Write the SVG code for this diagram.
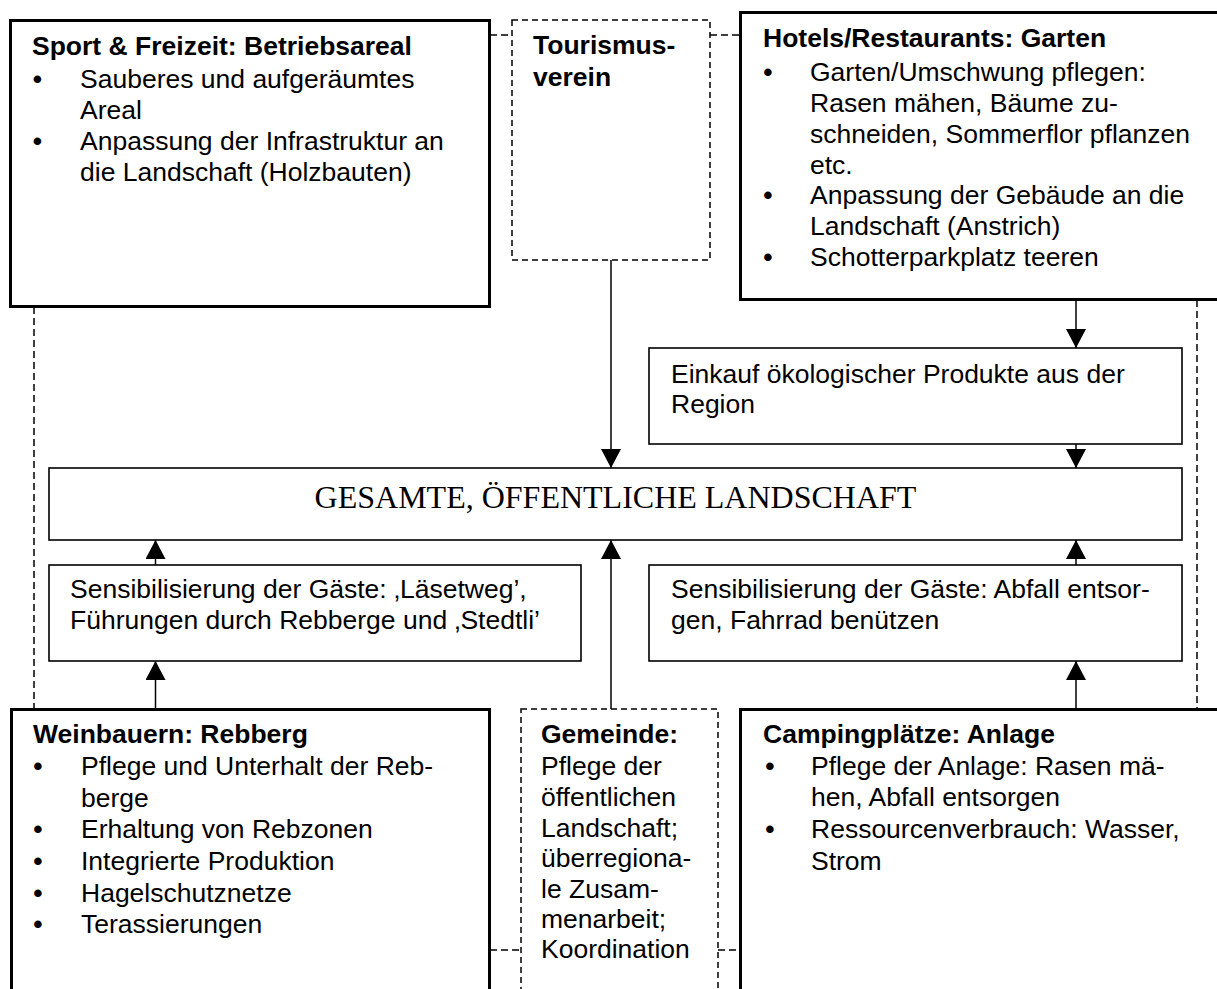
<svg xmlns="http://www.w3.org/2000/svg" width="1217" height="989" viewBox="0 0 1217 989">
<style>
.bg{fill:#fff}
.thick{fill:#fff;stroke:#000;stroke-width:3}
.thin{fill:#fff;stroke:#000;stroke-width:1.6}
.dbox{fill:#fff;stroke:#000;stroke-width:1.5;stroke-dasharray:6 4}
.t{font-family:"Liberation Sans",Arial,sans-serif;font-size:26.5px;fill:#000}
.b{font-weight:bold}
.bul{text-anchor:middle;font-weight:bold}
.big{font-family:"Liberation Serif","Times New Roman",serif;font-size:32px;fill:#000;text-anchor:middle}
.dash{fill:none;stroke:#000;stroke-width:1.5;stroke-dasharray:7 4}
.arr{fill:none;stroke:#000;stroke-width:1.5;marker-end:url(#ah)}
</style>
<defs>
<marker id="ah" markerUnits="userSpaceOnUse" markerWidth="20" markerHeight="20" refX="19" refY="10" orient="auto" viewBox="0 0 20 20">
<path d="M0,0 L19,10 L0,20 z" fill="#000"/>
</marker>
</defs>
<rect class="bg" x="0" y="0" width="1217" height="989"/>

<g id="connectors">
<line class="dash" x1="490" y1="35" x2="512" y2="35"/>
<line class="dash" x1="710" y1="35" x2="740" y2="35"/>
<line class="dash" x1="34" y1="307" x2="34" y2="709"/>
<line class="dash" x1="1197" y1="300" x2="1197" y2="709"/>
<line class="dash" x1="490" y1="950" x2="521" y2="950"/>
<line class="dash" x1="718" y1="950" x2="740" y2="950"/>
<line class="arr" x1="611" y1="260" x2="611" y2="468"/>
<line class="arr" x1="1076" y1="300" x2="1076" y2="348"/>
<line class="arr" x1="1076" y1="444" x2="1076" y2="468"/>
<line class="arr" x1="155.5" y1="565" x2="155.5" y2="540"/>
<line class="arr" x1="155.5" y1="709" x2="155.5" y2="661"/>
<line class="arr" x1="611" y1="709" x2="611" y2="540"/>
<line class="arr" x1="1076" y1="565" x2="1076" y2="540"/>
<line class="arr" x1="1076" y1="709" x2="1076" y2="661"/>
</g>

<g id="sport">
<rect class="thick" x="10.5" y="20.5" width="479" height="286"/>
<text class="t b" x="32" y="55">Sport &amp; Freizeit: Betriebsareal</text>
<text class="t bul" x="37.5" y="88">•</text>
<text class="t" x="80" y="88">Sauberes und aufgeräumtes</text>
<text class="t" x="80" y="119">Areal</text>
<text class="t bul" x="37.5" y="150">•</text>
<text class="t" x="80" y="150">Anpassung der Infrastruktur an</text>
<text class="t" x="80" y="181">die Landschaft (Holzbauten)</text>
</g>

<g id="tourismus">
<rect class="dbox" x="512" y="20" width="198" height="240"/>
<text class="t b" x="533" y="54">Tourismus-</text>
<text class="t b" x="533" y="86">verein</text>
</g>

<g id="hotels">
<rect class="thick" x="740.5" y="12.5" width="500" height="287"/>
<text class="t b" x="763" y="47">Hotels/Restaurants: Garten</text>
<text class="t bul" x="768" y="81">•</text>
<text class="t" x="810" y="81">Garten/Umschwung pflegen:</text>
<text class="t" x="810" y="112">Rasen mähen, Bäume zu-</text>
<text class="t" x="810" y="143">schneiden, Sommerflor pflanzen</text>
<text class="t" x="810" y="174">etc.</text>
<text class="t bul" x="768" y="204">•</text>
<text class="t" x="810" y="204">Anpassung der Gebäude an die</text>
<text class="t" x="810" y="235">Landschaft (Anstrich)</text>
<text class="t bul" x="768" y="266">•</text>
<text class="t" x="810" y="266">Schotterparkplatz teeren</text>
</g>

<g id="einkauf">
<rect class="thin" x="649" y="348" width="533" height="96"/>
<text class="t" x="671" y="383">Einkauf ökologischer Produkte aus der</text>
<text class="t" x="671" y="413">Region</text>
</g>

<g id="landschaft">
<rect class="thin" x="49" y="468" width="1133" height="72"/>
<text class="big" x="615.5" y="508">GESAMTE, ÖFFENTLICHE LANDSCHAFT</text>
</g>

<g id="sens-links">
<rect class="thin" x="49" y="565" width="532" height="96"/>
<text class="t" x="70" y="598">Sensibilisierung der Gäste: ‚Läsetweg’,</text>
<text class="t" x="70" y="629">Führungen durch Rebberge und ‚Stedtli’</text>
</g>

<g id="sens-rechts">
<rect class="thin" x="649" y="565" width="533" height="96"/>
<text class="t" x="671" y="598">Sensibilisierung der Gäste: Abfall entsor-</text>
<text class="t" x="671" y="629">gen, Fahrrad benützen</text>
</g>

<g id="weinbauern">
<rect class="thick" x="11.5" y="709.5" width="478" height="300"/>
<text class="t b" x="33" y="743">Weinbauern: Rebberg</text>
<text class="t bul" x="38" y="775">•</text>
<text class="t" x="81" y="775">Pflege und Unterhalt der Reb-</text>
<text class="t" x="81" y="807">berge</text>
<text class="t bul" x="38" y="838">•</text>
<text class="t" x="81" y="838">Erhaltung von Rebzonen</text>
<text class="t bul" x="38" y="870">•</text>
<text class="t" x="81" y="870">Integrierte Produktion</text>
<text class="t bul" x="38" y="902">•</text>
<text class="t" x="81" y="902">Hagelschutznetze</text>
<text class="t bul" x="38" y="933">•</text>
<text class="t" x="81" y="933">Terassierungen</text>
</g>

<g id="gemeinde">
<rect class="dbox" x="521" y="709" width="197" height="300"/>
<text class="t b" x="541" y="743">Gemeinde:</text>
<text class="t" x="541" y="775">Pflege der</text>
<text class="t" x="541" y="806">öffentlichen</text>
<text class="t" x="541" y="837">Landschaft;</text>
<text class="t" x="541" y="867">überregiona-</text>
<text class="t" x="541" y="898">le Zusam-</text>
<text class="t" x="541" y="928">menarbeit;</text>
<text class="t" x="541" y="958">Koordination</text>
</g>

<g id="camping">
<rect class="thick" x="740.5" y="709.5" width="500" height="300"/>
<text class="t b" x="763" y="743">Campingplätze: Anlage</text>
<text class="t bul" x="770" y="775">•</text>
<text class="t" x="811" y="775">Pflege der Anlage: Rasen mä-</text>
<text class="t" x="811" y="806">hen, Abfall entsorgen</text>
<text class="t bul" x="770" y="838">•</text>
<text class="t" x="811" y="838">Ressourcenverbrauch: Wasser,</text>
<text class="t" x="811" y="870">Strom</text>
</g>
</svg>
